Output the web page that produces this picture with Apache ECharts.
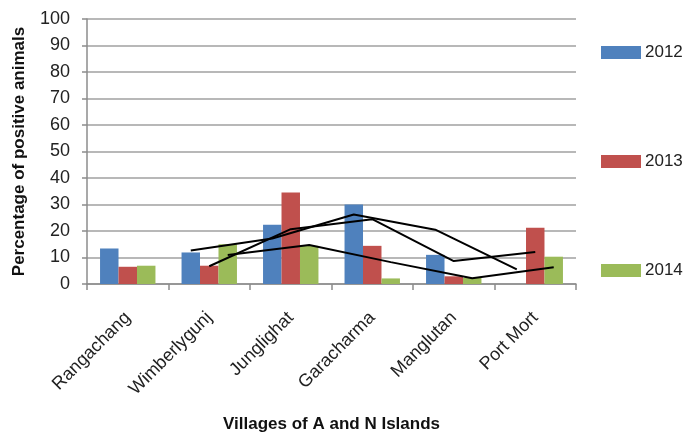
<!DOCTYPE html>
<html><head><meta charset="utf-8">
<script src="https://cdn.jsdelivr.net/npm/echarts@6/dist/echarts.min.js"></script>
<style>html,body{margin:0;padding:0;background:#fff}#c{width:686px;height:438px}</style>
</head><body><div id="c"></div>
<script>
var categories = ['Rangachang','Wimberlygunj','Junglighat','Garacharma','Manglutan','Port Mort'];
var years = ['2012','2013','2014'];
var v2012 = [13.4, 11.9, 22.4, 30.0, 11.0, 0];
var v2013 = [6.5, 6.9, 34.5, 14.4, 2.9, 21.2];
var v2014 = [6.9, 15.0, 14.4, 2.1, 2.3, 10.3];
var yTicks = [0,10,20,30,40,50,60,70,80,90,100];

var colors = ['#4F81BD','#C0504D','#9BBB59'];
var gapFrac = 0.32;
var series = [];
var all = [v2012, v2013, v2014];
all.forEach(function(vals, k){
  series.push({name: years[k], type:'bar', data: vals, barGap: '0%', barCategoryGap: (gapFrac*100)+'%',
    itemStyle:{color: colors[k]}, xAxisIndex:0, yAxisIndex:0});
});
// 2-period moving average trendlines, placed at each series' bar centre
var barW = (1-gapFrac)/3;
all.forEach(function(vals, k){
  var off = (k-1)*barW;
  var pts = [];
  for (var i=1;i<vals.length;i++) pts.push([i+off, (vals[i-1]+vals[i])/2]);
  series.push({name:'MA '+years[k], type:'line', data: pts, xAxisIndex:1, yAxisIndex:0,
    symbol:'none', lineStyle:{color:'#000', width:2}, itemStyle:{color:'#000'}, z:5, silent:true});
});

var font = 'Liberation Sans, Arial, sans-serif';
var legends = years.map(function(y, k){
  return {data:[y], left: 596, top: [39,148,257][k], orient:'vertical', icon:'rect', itemWidth:40, itemHeight:13,
    itemGap: 5, textStyle:{fontSize:17, color:'#222', fontFamily: font, padding:[0,0,0,-1]}};
});

var chart = echarts.init(document.getElementById('c'), null, {renderer:'canvas'});
chart.setOption({
  animation:false,
  grid:{left:87, right:110, top:19, bottom:151},
  legend: legends,
  xAxis:[{type:'category', data:categories,
      axisLine:{lineStyle:{color:'#8c8c8c', width:1.5}},
      axisTick:{show:true, length:6, lineStyle:{color:'#8c8c8c', width:1.5}},
      axisLabel:{rotate:45, fontSize:18, color:'#222', fontFamily:font, margin:31, interval:0},
      name:'Villages of A and N Islands', nameLocation:'middle', nameGap:132,
      nameTextStyle:{fontSize:17, fontWeight:'bold', color:'#111', fontFamily:font}},
    {type:'value', min:-0.5, max:5.5, show:false}],
  yAxis:[{type:'value', min:0, max:100, interval:10,
      axisLine:{show:true, onZero:false, lineStyle:{color:'#8c8c8c', width:1.5}},
      axisTick:{show:true, length:5, lineStyle:{color:'#8c8c8c', width:1.5}},
      splitLine:{lineStyle:{color:'#a0a0a0', width:1.5}},
      axisLabel:{fontSize:18, color:'#222', fontFamily:font, margin:17,
        formatter:function(v){ return yTicks.indexOf(v)>=0 ? String(v) : ''; }},
      name:'Percentage of positive animals', nameLocation:'middle', nameGap:59,
      nameTextStyle:{fontSize:17, fontWeight:'bold', color:'#111', fontFamily:font}}],
  series: series
});
</script></body></html>
